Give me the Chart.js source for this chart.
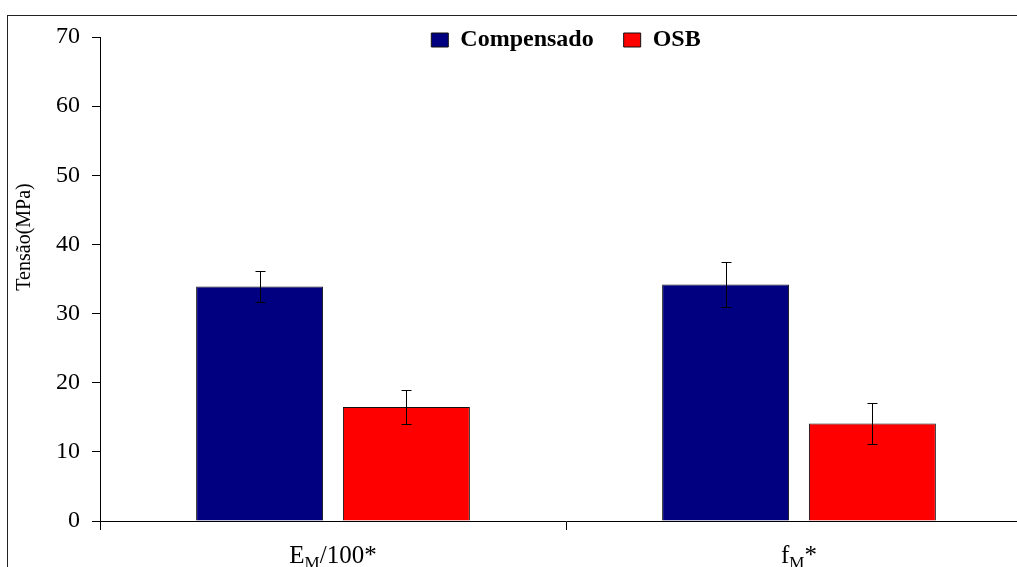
<!DOCTYPE html>
<html>
<head>
<meta charset="utf-8">
<script src="https://cdn.jsdelivr.net/npm/chart.js@4.4.0/dist/chart.umd.min.js"></script>
<style>
  html, body { margin: 0; padding: 0; background: #fff; overflow: hidden; }
  #wrap { width: 1017px; height: 567px; overflow: hidden; }
</style>
</head>
<body>
<div id="wrap"><canvas id="chart" width="1040" height="567"></canvas></div>
<script>
// Data
const categories = ['EM/100*', 'fM*'];
const labelParts = [['E', 'M', '/100*'], ['f', 'M', '*']];
const seriesNames = ['Compensado', 'OSB'];
const compensado = [33.9, 34.2];
const compensadoErr = [2.2, 3.2];
const osb = [16.5, 14.1];
const osbErr = [2.5, 3.0];
const yTicks = [0, 10, 20, 30, 40, 50, 60, 70];
const yTitle = 'Tensão(MPa)';

const serif = '"Liberation Serif", "Times New Roman", serif';

// Outer frame of the picture
const framePlugin = {
  id: 'frame',
  beforeDraw(chart) {
    const ctx = chart.ctx;
    ctx.save();
    ctx.fillStyle = '#fff';
    ctx.fillRect(0, 0, chart.width, chart.height);
    ctx.strokeStyle = '#222';
    ctx.lineWidth = 1;
    ctx.strokeRect(7.5, 15.5, 2000, 2000);
    ctx.restore();
  }
};

// Let the legend overlap the top of the plot a little, like the original
const legendHeightPlugin = {
  id: 'legendHeight',
  beforeLayout(chart) {
    const lg = chart.legend;
    if (lg && !lg._patched) {
      const fit = lg.fit;
      lg.fit = function () {
        fit.call(this);
        this.height = 39;
      };
      lg._patched = true;
    }
  },
  afterLayout(chart) {
    // give the legend its full box back for drawing (it clips to it)
    const lg = chart.legend;
    if (lg) {
      lg.height = 70;
      lg.bottom = lg.top + 70;
    }
  }
};

// Error bars on top of each bar
const errorBarPlugin = {
  id: 'errorBars',
  afterDatasetsDraw(chart) {
    const ctx = chart.ctx;
    const y = chart.scales.y;
    const errs = [compensadoErr, osbErr];
    ctx.save();
    ctx.strokeStyle = '#000';
    ctx.lineWidth = 1;
    chart.data.datasets.forEach((ds, di) => {
      const meta = chart.getDatasetMeta(di);
      meta.data.forEach((bar, i) => {
        const v = ds.data[i];
        const x = Math.round(bar.x) + 0.5;
        const top = Math.round(y.getPixelForValue(v + errs[di][i])) + 0.5;
        const bot = Math.round(y.getPixelForValue(v - errs[di][i])) + 0.5;
        ctx.beginPath();
        ctx.moveTo(x, top); ctx.lineTo(x, bot);
        ctx.moveTo(x - 5, top); ctx.lineTo(x + 5, top);
        ctx.moveTo(x - 5, bot); ctx.lineTo(x + 5, bot);
        ctx.stroke();
      });
    });
    ctx.restore();
  }
};

// Category labels with subscript M, and the y title placed like the original
const textPlugin = {
  id: 'texts',
  afterDraw(chart) {
    const ctx = chart.ctx;
    const xs = chart.scales.x;
    const base = 563;
    const mainFont = '25px ' + serif;
    const subFont = '17px ' + serif;
    ctx.save();
    ctx.fillStyle = '#000';
    ctx.textBaseline = 'alphabetic';
    ctx.textAlign = 'left';
    labelParts.forEach((parts, i) => {
      ctx.font = mainFont;
      const w0 = ctx.measureText(parts[0]).width;
      const w2 = ctx.measureText(parts[2]).width;
      ctx.font = subFont;
      const w1 = ctx.measureText(parts[1]).width;
      const cx = xs.getPixelForValue(i);
      let x = cx - (w0 + w1 + w2) / 2;
      ctx.font = mainFont;
      ctx.fillText(parts[0], x, base);
      x += w0;
      ctx.font = subFont;
      ctx.fillText(parts[1], x, base + 5);
      x += w1;
      ctx.font = mainFont;
      ctx.fillText(parts[2], x, base);
    });

    ctx.translate(25, 237);
    ctx.rotate(-Math.PI / 2);
    ctx.font = '20px ' + serif;
    ctx.textAlign = 'center';
    ctx.textBaseline = 'middle';
    ctx.fillText(yTitle, 0, 0);
    ctx.restore();
  }
};

new Chart(document.getElementById('chart'), {
  type: 'bar',
  data: {
    labels: categories,
    datasets: [
      {
        label: seriesNames[0],
        data: compensado,
        backgroundColor: '#000080',
        borderColor: '#111',
        borderWidth: 1,
        categoryPercentage: 0.63,
        barPercentage: 0.865
      },
      {
        label: seriesNames[1],
        data: osb,
        backgroundColor: '#ff0000',
        borderColor: '#111',
        borderWidth: 1,
        categoryPercentage: 0.63,
        barPercentage: 0.865
      }
    ]
  },
  options: {
    responsive: false,
    animation: false,
    devicePixelRatio: 1,
    layout: { padding: { left: 0, right: 8, top: -2, bottom: 0 } },
    plugins: {
      legend: {
        display: true,
        position: 'top',
        fullSize: false,
        labels: {
          color: '#000',
          font: { family: serif, size: 24, weight: 'bold' },
          boxWidth: 17,
          boxHeight: 14,
          padding: 30
        }
      },
      tooltip: { enabled: false }
    },
    scales: {
      x: {
        grid: {
          offset: true,
          drawOnChartArea: false,
          color: '#000',
          tickLength: 9
        },
        border: { color: '#000', width: 1 },
        ticks: { display: false },
        afterFit(scale) { scale.height = 46; }
      },
      y: {
        min: 0,
        max: 70,
        afterBuildTicks(scale) { scale.ticks = yTicks.map(v => ({ value: v })); },
        ticks: {
          color: '#000',
          font: { family: serif, size: 24 },
          padding: 12
        },
        grid: {
          drawOnChartArea: false,
          color: '#000',
          tickLength: 8
        },
        border: { color: '#000', width: 1 },
        afterFit(scale) { scale.width = 100; }
      }
    }
  },
  plugins: [framePlugin, legendHeightPlugin, errorBarPlugin, textPlugin]
});
</script>
</body>
</html>
